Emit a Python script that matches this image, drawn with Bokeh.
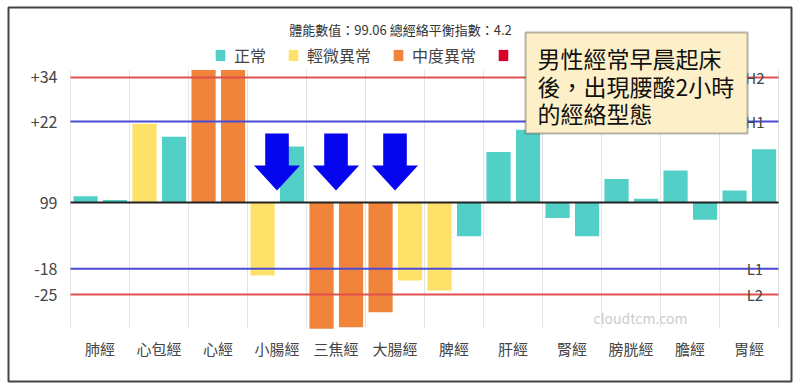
from bokeh.plotting import figure
from bokeh.models import (Label, BoxAnnotation, Legend, LegendItem,
                          FixedTicker, Range1d, ColumnDataSource)
from bokeh.embed import file_html
from bokeh.resources import INLINE

categories = ["肺經", "心包經", "心經", "小腸經", "三焦經", "大腸經",
              "脾經", "肝經", "腎經", "膀胱經", "膽經", "胃經"]
left_values = [1.7, 21.4, 36.0, -19.8, -34.3, -29.8, -23.9, 13.7, -4.2, 6.4, 8.7, 3.3]
right_values = [0.7, 17.9, 36.0, 15.2, -33.9, -21.2, -9.2, 19.8, -9.2, 1.0, -4.7, 14.5]
left_status = ["正常", "輕微異常", "中度異常", "輕微異常", "中度異常", "中度異常",
               "輕微異常", "正常", "正常", "正常", "正常", "正常"]
right_status = ["正常", "正常", "中度異常", "正常", "中度異常", "輕微異常",
                "正常", "正常", "正常", "正常", "正常", "正常"]
status_names = ["正常", "輕微異常", "中度異常", "嚴重異常"]
legend_labels = ["正常", "輕微異常", "中度異常", " "]   # 4th label hidden behind the note box
status_colors = ["#52cfc6", "#fde168", "#f0843a", "#d5002c"]
y_ticks = [34, 22, 0, -18, -25]
y_tick_labels = ["+34", "+22", "99", "-18", "-25"]
limit_values = [34, 22, -18, -25]
limit_names = ["H2", "H1", "L1", "L2"]
limit_colors = ["#e05050", "#4a4ad6", "#4a4ad6", "#e05050"]
title_text = "體能數值：99.06 總經絡平衡指數：4.2"
note_lines = ["男性經常早晨起床", "後，出現腰酸2小時", "的經絡型態"]
arrow_categories = ["小腸經", "三焦經", "大腸經"]
watermark = "cloudtcm.com"

FONT = "Noto Sans CJK TC"
W, H = 800, 391
N = len(categories)
Y_TOP, Y_BOTTOM = 36.1, -33.97   # extent of the plotting area

p = figure(width=W, height=H, output_backend="svg", toolbar_location=None,
           x_range=Range1d(-1.051, 12.22), y_range=Range1d(-48.64, 53.0),
           min_border_left=8, min_border_right=9, min_border_top=7,
           min_border_bottom=10)
p.outline_line_color = "#444444"
p.outline_line_width = 2
p.background_fill_color = "white"
p.border_fill_color = "white"
p.xgrid.grid_line_color = None
p.ygrid.grid_line_color = None

# vertical grid lines at category boundaries
p.segment(x0=list(range(N + 1)), x1=list(range(N + 1)), y0=Y_BOTTOM, y1=Y_TOP,
          line_color="#e4e4e4", line_width=1)

# bars
bar_w = 0.41
bar_renderers = []
for name, color in zip(status_names, status_colors):
    xs, tops = [], []
    for i in range(N):
        if left_status[i] == name:
            xs.append(i + 0.255)
            tops.append(left_values[i])
        if right_status[i] == name:
            xs.append(i + 0.755)
            tops.append(right_values[i])
    if not xs:          # keep a zero-height bar so the legend swatch is drawn
        xs, tops = [0.255], [0.0]
    src = ColumnDataSource(dict(x=xs, top=tops))
    r = p.vbar(x="x", top="top", bottom=0, width=bar_w, source=src,
               fill_color=color, line_color=None)
    bar_renderers.append(r)

# axes (placed inside the frame at the plot area's edges)
p.xaxis.fixed_location = Y_BOTTOM
p.yaxis.fixed_location = 0
p.xaxis.ticker = FixedTicker(ticks=[i + 0.5 for i in range(N)])
p.xaxis.major_label_overrides = {i + 0.5: c for i, c in enumerate(categories)}
p.yaxis.ticker = FixedTicker(ticks=y_ticks)
p.yaxis.major_label_overrides = {t: l for t, l in zip(y_ticks, y_tick_labels)}
for ax in (p.xaxis, p.yaxis):
    ax.axis_line_color = None
    ax.major_tick_line_color = None
    ax.minor_tick_line_color = None
    ax.major_label_text_font = FONT
    ax.major_label_text_color = "#444444"
p.xaxis.major_label_text_font_size = "15px"
p.yaxis.major_label_text_font_size = "16px"
p.xaxis.major_label_standoff = 4
p.yaxis.major_label_standoff = 7

# limit lines
for v, n, c in zip(limit_values, limit_names, limit_colors):
    p.segment(x0=0, x1=N, y0=v, y1=v, line_color=c, line_width=2)
    p.add_layout(Label(x=11.6, y=v, text=n, text_align="center",
                       text_baseline="middle", text_font=FONT,
                       text_font_size="15px", text_color="#444444"))
p.segment(x0=0, x1=N, y0=0, y1=0, line_color="#222222", line_width=2)

# arrows
for cat in arrow_categories:
    c = categories.index(cat) + 0.5
    xs = [c - 0.2, c + 0.2, c + 0.2, c + 0.39, c, c - 0.39, c - 0.2]
    ys = [18.75, 18.75, 10.05, 10.05, 3.26, 10.05, 10.05]
    p.patch(xs, ys, fill_color="#0505ee", line_color=None)

# watermark
p.add_layout(Label(x=9.66, y=-31.3, text=watermark, text_align="center",
                   text_baseline="middle", text_font=FONT, text_font_size="14px",
                   text_color="#cccccc"))

# legend
items = [LegendItem(label=n, renderers=[r]) for n, r in zip(legend_labels, bar_renderers)]
legend = Legend(items=items, orientation="horizontal", location=(206, 314),
                glyph_width=12, glyph_height=14, label_standoff=8, spacing=21,
                label_text_font=FONT, label_text_font_size="16px",
                label_text_color="#444444", border_line_color=None,
                background_fill_alpha=0, padding=0, margin=0)
p.add_layout(legend, "center")

# title
p.add_layout(Label(x=5.593, y=47.0, text=title_text,
                   text_align="center", text_baseline="middle", text_font=FONT,
                   text_font_size="13px", text_color="#333333"))

# note box
p.add_layout(BoxAnnotation(left=7.712, right=11.475, top=46.2, bottom=18.75,
                           fill_color="#fdf0c8", fill_alpha=1,
                           line_color="#111111", line_width=2, level="overlay"))
for k, line in enumerate(note_lines):
    p.add_layout(Label(x=7.915, y=39.2 - 7.47 * k, text=line,
                       text_align="left", text_baseline="middle",
                       text_font=FONT, text_font_size="23px", text_color="#111111",
                       level="overlay"))

open("out.html", "w").write(file_html(p, INLINE))
